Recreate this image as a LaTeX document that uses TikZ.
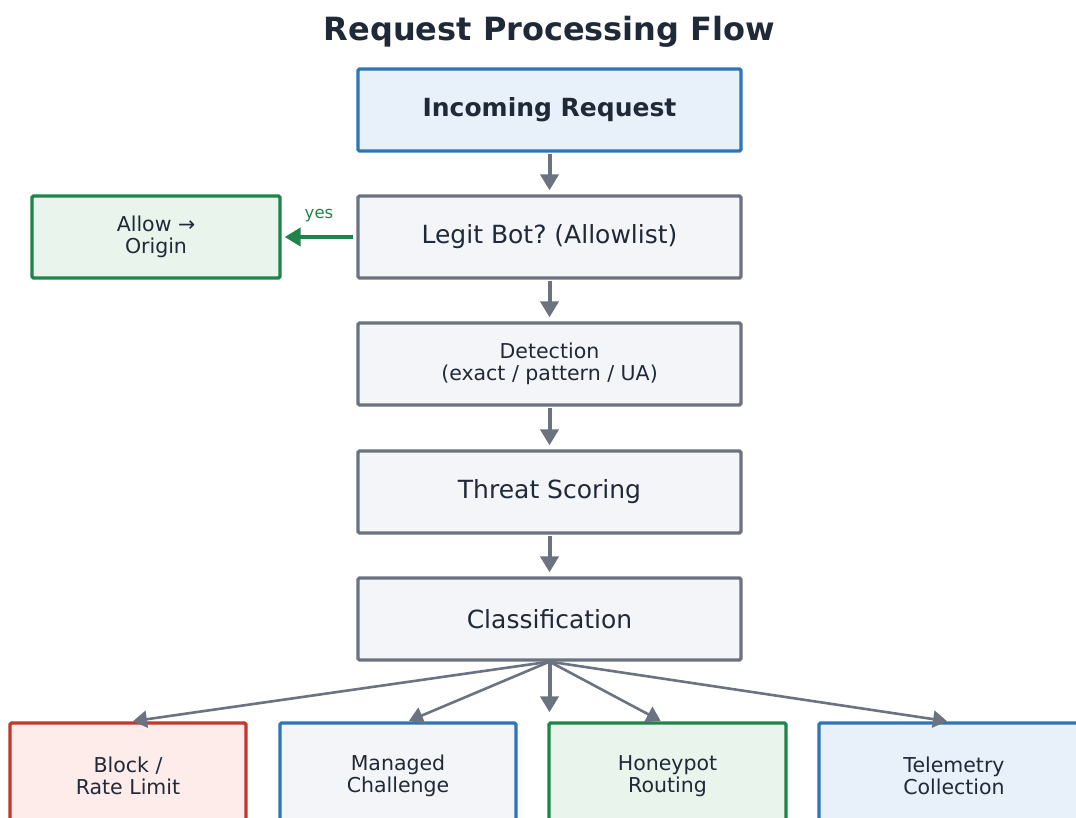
\documentclass[tikz,border=0pt]{standalone}
\usepackage{fontspec}
\setmainfont{DejaVu Sans}
\usetikzlibrary{arrows.meta,calc}
\frenchspacing
\definecolor{txt}{HTML}{1F2937}
\definecolor{gborder}{HTML}{6B7280}
\definecolor{gfill}{HTML}{F3F5F9}
\definecolor{bborder}{HTML}{2E75B6}
\definecolor{bfill}{HTML}{E8F0F9}
\definecolor{grborder}{HTML}{1E8449}
\definecolor{grfill}{HTML}{E9F5EC}
\definecolor{rborder}{HTML}{C0392B}
\definecolor{rfill}{HTML}{FDECEA}
\tikzset{
  box/.style={draw, line width=3.3pt, rounded corners=1.5pt, align=center, text=txt, inner sep=0pt},
  mainbox/.style={box, minimum width=383pt, minimum height=82pt},
  graybox/.style={mainbox, draw=gborder, fill=gfill},
  bluebox/.style={mainbox, draw=bborder, fill=bfill},
  outbox/.style={box, minimum height=106pt, font=\fontsize{20.5}{22}\selectfont},
  varrow/.style={draw=gborder, line width=4pt, -{Triangle[width=18pt,length=16pt]}, shorten <=1pt, shorten >=4pt},
  darrow/.style={draw=gborder, line width=2.6pt, -{Triangle[width=17pt,length=14pt]}, shorten >=1pt},
}
\begin{document}
\begin{tikzpicture}[x=1pt,y=-1pt]
\useasboundingbox (0,0) rectangle (1076,818);
\clip (0,0) rectangle (1076,818);
\node[text=txt, font=\fontsize{32}{38}\selectfont\bfseries] (title) at (549.5,32) {Request Processing Flow};
\node[bluebox, font=\fontsize{25}{30}\selectfont\bfseries] (inc) at (549.5,110) {Incoming Request};
\node[graybox, font=\fontsize{25}{30}\selectfont] (legit) at (549.5,237) {Legit Bot? (Allowlist)};
\node[graybox, font=\fontsize{20.5}{22}\selectfont] (det) at (549.5,364) {Detection\\(exact / pattern / UA)};
\node[graybox, font=\fontsize{25}{30}\selectfont] (threat) at (549.5,492) {Threat Scoring};
\node[graybox, font=\fontsize{25}{30}\selectfont] (cls) at (549.5,619) {Classification};
\node[box, draw=grborder, fill=grfill, minimum width=248pt, minimum height=82pt, font=\fontsize{20.5}{22}\selectfont] (allow) at (156,237) {Allow →\\Origin};
\node[outbox, draw=rborder, fill=rfill, minimum width=236pt] (block) at (128,776) {Block /\\Rate Limit};
\node[outbox, draw=bborder, fill=gfill, minimum width=236pt] (chal) at (398,776) {Managed\\Challenge};
\node[outbox, draw=grborder, fill=grfill, minimum width=237pt] (honey) at (667.5,776) {Honeypot\\Routing};
\node[outbox, draw=bborder, fill=bfill, minimum width=270pt] (tele) at (954,776) {Telemetry\\Collection};

\draw[varrow] (inc.south) -- (legit.north);
\draw[varrow] (legit.south) -- (det.north);
\draw[varrow] (det.south) -- (threat.north);
\draw[varrow] (threat.south) -- (cls.north);
\draw[draw=grborder, line width=4pt, -{Triangle[width=18pt,length=16pt]}, shorten >=3pt, shorten <=3pt] (legit.west) -- (allow.east) node[midway, above=10pt, text=grborder, font=\fontsize{16.5}{19}\selectfont] (yes) {yes};

\coordinate (src) at (cls.south);
\coordinate (tb) at ($(block.north)+(4,0)$);
\coordinate (tc) at ($(chal.north)+(10,0)$);
\coordinate (th) at ($(honey.north)+(-6,0)$);
\coordinate (tt) at ($(tele.north)+(-6,0)$);
\draw[darrow] (src) -- (tb);
\draw[darrow] (src) -- (tc);
\draw[varrow, shorten <=0pt, shorten >=9pt] (cls.south) -- (cls.south |- chal.north);
\draw[darrow] (src) -- (th);
\draw[darrow] (src) -- (tt);
\end{tikzpicture}
\end{document}
